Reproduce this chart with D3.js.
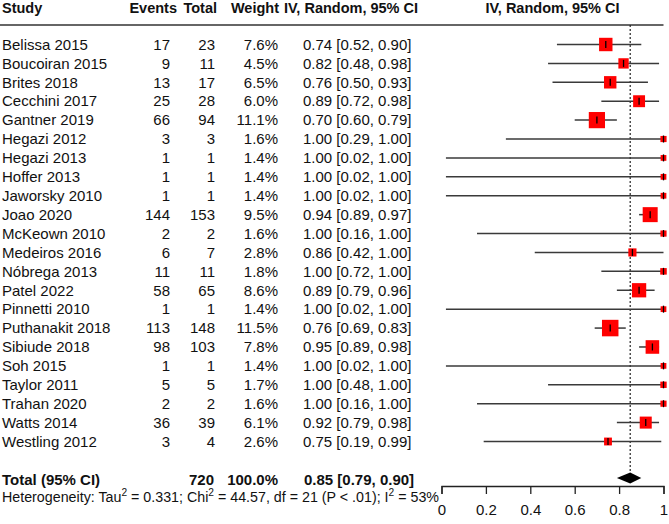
<!DOCTYPE html>
<html>
<head>
<meta charset="utf-8">
<script src="https://cdn.jsdelivr.net/npm/d3@7"></script>
<style>
  body { margin: 0; background: #fff; }
  svg text { font-family: "Liberation Sans", Arial, sans-serif; fill: #111; }
</style>
</head>
<body>
<div id="forest"></div>
<script>
// study data
var studies = ["Belissa 2015", "Boucoiran 2015", "Brites 2018", "Cecchini 2017", "Gantner 2019",
  "Hegazi 2012", "Hegazi 2013", "Hoffer 2013", "Jaworsky 2010", "Joao 2020", "McKeown 2010",
  "Medeiros 2016", "Nóbrega 2013", "Patel 2022", "Pinnetti 2010", "Puthanakit 2018",
  "Sibiude 2018", "Soh 2015", "Taylor 2011", "Trahan 2020", "Watts 2014", "Westling 2012"];
var events = [17, 9, 13, 25, 66, 3, 1, 1, 1, 144, 2, 6, 11, 58, 1, 113, 98, 1, 5, 2, 36, 3];
var totals = [23, 11, 17, 28, 94, 3, 1, 1, 1, 153, 2, 7, 11, 65, 1, 148, 103, 1, 5, 2, 39, 4];
var weights = [7.6, 4.5, 6.5, 6.0, 11.1, 1.6, 1.4, 1.4, 1.4, 9.5, 1.6, 2.8, 1.8, 8.6, 1.4, 11.5, 7.8, 1.4, 1.7, 1.6, 6.1, 2.6];
var est = [0.74, 0.82, 0.76, 0.89, 0.70, 1.00, 1.00, 1.00, 1.00, 0.94, 1.00, 0.86, 1.00, 0.89, 1.00, 0.76, 0.95, 1.00, 1.00, 1.00, 0.92, 0.75];
var lower = [0.52, 0.48, 0.50, 0.72, 0.60, 0.29, 0.02, 0.02, 0.02, 0.89, 0.16, 0.42, 0.72, 0.79, 0.02, 0.69, 0.89, 0.02, 0.48, 0.16, 0.79, 0.19];
var upper = [0.90, 0.98, 0.93, 0.98, 0.79, 1.00, 1.00, 1.00, 1.00, 0.97, 1.00, 1.00, 1.00, 0.96, 1.00, 0.83, 0.98, 1.00, 1.00, 1.00, 0.98, 0.99];

// pooled result
var pooled = { total: 720, weight: 100.0, est: 0.85, lo: 0.79, hi: 0.90 };
var axisTicks = [0, 0.2, 0.4, 0.6, 0.8, 1];

var width = 669, height = 524;
var fmt2 = d3.format(".2f");

var svg = d3.select("#forest").append("svg")
  .attr("width", width)
  .attr("height", height);

var x = d3.scaleLinear().domain([0, 1]).range([441.5, 663.5]);
var y = d3.scaleLinear().domain([0, studies.length - 1]).range([44.5, 441.5]);
var boxSize = d3.scaleSqrt().domain([0, d3.max(weights)]).range([0, 16.5]);

var rows = studies.map(function(s, i) {
  return { study: s, ev: events[i], n: totals[i], w: weights[i], est: est[i], lo: lower[i], hi: upper[i] };
});

// header
var header = svg.append("g").attr("font-size", 14.5).attr("font-weight", "bold");
header.append("text").attr("x", 2).attr("y", 13).text("Study");
header.append("text").attr("x", 177).attr("y", 13).attr("text-anchor", "end").text("Events");
header.append("text").attr("x", 217).attr("y", 13).attr("text-anchor", "end").text("Total");
header.append("text").attr("x", 279).attr("y", 13).attr("text-anchor", "end").text("Weight");
header.append("text").attr("x", 284).attr("y", 13).text("IV, Random, 95% CI");
header.append("text").attr("x", (x(0) + x(1)) / 2).attr("y", 13).attr("text-anchor", "middle").text("IV, Random, 95% CI");

svg.append("line")
  .attr("x1", 0).attr("x2", x(1))
  .attr("y1", 25).attr("y2", 25)
  .attr("stroke", "#333").attr("stroke-width", 1.5);

// text columns
var tbl = svg.append("g").attr("font-size", 15);
var rowG = tbl.selectAll("g.row").data(rows).enter().append("g")
  .attr("class", "row")
  .attr("transform", function(d, i) { return "translate(0," + y(i) + ")"; });

rowG.append("text").attr("x", 2).attr("dy", "0.35em").text(function(d) { return d.study; });
rowG.append("text").attr("x", 170).attr("dy", "0.35em").attr("text-anchor", "end").text(function(d) { return d.ev; });
rowG.append("text").attr("x", 215).attr("dy", "0.35em").attr("text-anchor", "end").text(function(d) { return d.n; });
rowG.append("text").attr("x", 278).attr("dy", "0.35em").attr("text-anchor", "end").text(function(d) { return d.w.toFixed(1) + "%"; });
rowG.append("text").attr("x", 303).attr("dy", "0.35em")
  .text(function(d) { return fmt2(d.est) + " [" + fmt2(d.lo) + ", " + fmt2(d.hi) + "]"; });

// pooled row
var totY = 480;
var tot = svg.append("g").attr("font-size", 15).attr("font-weight", "bold")
  .attr("transform", "translate(0," + totY + ")");
tot.append("text").attr("x", 2).attr("dy", "0.35em").text("Total (95% CI)");
tot.append("text").attr("x", 214).attr("dy", "0.35em").attr("text-anchor", "end").text(pooled.total);
tot.append("text").attr("x", 278).attr("dy", "0.35em").attr("text-anchor", "end").text(pooled.weight.toFixed(1) + "%");
tot.append("text").attr("x", 304).attr("dy", "0.35em")
  .text(fmt2(pooled.est) + " [" + fmt2(pooled.lo) + ", " + fmt2(pooled.hi) + "]");

// heterogeneity line
var het = svg.append("text").attr("x", 2).attr("y", 502).attr("font-size", 14)
  .attr("textLength", 437).attr("lengthAdjust", "spacingAndGlyphs");
het.append("tspan").text("Heterogeneity: Tau");
het.append("tspan").attr("font-size", 10).attr("dy", -6).text("2");
het.append("tspan").attr("dy", 6).text(" = 0.331; Chi");
het.append("tspan").attr("font-size", 10).attr("dy", -6).text("2");
het.append("tspan").attr("dy", 6).text(" = 44.57, df = 21 (P < .01); I");
het.append("tspan").attr("font-size", 10).attr("dy", -6).text("2");
het.append("tspan").attr("dy", 6).text(" = 53%");

// reference line at pooled estimate
svg.append("line")
  .attr("x1", x(pooled.est)).attr("x2", x(pooled.est))
  .attr("y1", 25).attr("y2", totY - 6)
  .attr("stroke", "#222").attr("stroke-width", 1.2)
  .attr("stroke-dasharray", "2,2");

// CI lines, boxes, point ticks
var plot = svg.append("g");
var mark = plot.selectAll("g.mark").data(rows).enter().append("g")
  .attr("class", "mark")
  .attr("transform", function(d, i) { return "translate(0," + y(i) + ")"; });

mark.append("line")
  .attr("x1", function(d) { return x(d.lo); })
  .attr("x2", function(d) { return x(d.hi); })
  .attr("stroke", "#3a3a3a").attr("stroke-width", 1.5);

mark.append("rect")
  .attr("x", function(d) { return x(d.est) - boxSize(d.w) / 2; })
  .attr("y", function(d) { return -boxSize(d.w) / 2; })
  .attr("width", function(d) { return boxSize(d.w); })
  .attr("height", function(d) { return boxSize(d.w); })
  .attr("fill", "#ff0000");

mark.append("line")
  .attr("x1", function(d) { return x(d.est); })
  .attr("x2", function(d) { return x(d.est); })
  .attr("y1", -3.5).attr("y2", 3.5)
  .attr("stroke", "#000").attr("stroke-width", 1.3);

// pooled diamond
var dh = 5.5;
svg.append("path")
  .attr("d", "M" + x(pooled.lo) + "," + (totY - 2) +
    "L" + x(pooled.est) + "," + (totY - 2 - dh) +
    "L" + x(pooled.hi) + "," + (totY - 2) +
    "L" + x(pooled.est) + "," + (totY - 2 + dh) + "Z")
  .attr("fill", "#000");

// x axis
var axis = svg.append("g")
  .attr("transform", "translate(0,486)")
  .call(d3.axisBottom(x).tickValues(axisTicks)
    .tickFormat(function(d) { return d3.format("~g")(d); })
    .tickSize(8).tickPadding(10));
axis.selectAll("text").attr("font-size", 15).attr("font-family", "Liberation Sans, Arial, sans-serif").attr("fill", "#111");
axis.selectAll("line, path").attr("stroke", "#222").attr("stroke-width", 1.3);
</script>
</body>
</html>
